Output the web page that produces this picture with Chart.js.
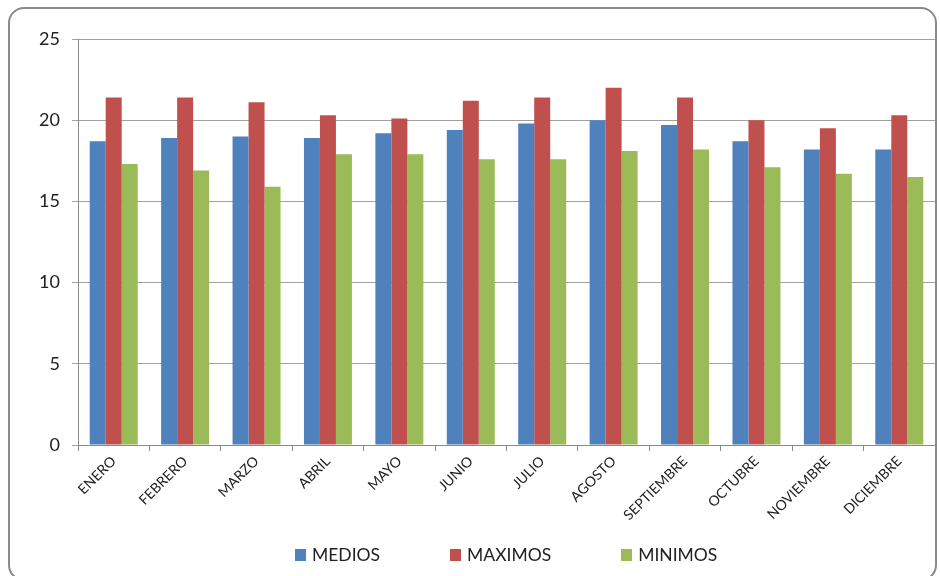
<!DOCTYPE html>
<html>
<head>
<meta charset="utf-8">
<script src="https://cdn.jsdelivr.net/npm/chart.js@4/dist/chart.umd.min.js"></script>
<style>
  body { margin: 0; background: #fff; overflow: hidden; }
  #wrap { position: relative; width: 940px; height: 576px; overflow: hidden; }
  #frame {
    position: absolute; left: 8px; top: 7px; width: 929px; height: 574px;
    border: 2px solid #8a8a8a; border-radius: 16px; box-sizing: border-box;
  }
  canvas { position: absolute; left: 0; top: 0; }
  #legend {
    position: absolute; left: 295px; top: 544px; display: flex; gap: 70px;
    font-family: Lato, "Open Sans", sans-serif; font-size: 17.5px; color: #222;
  }
  #legend span.item { display: flex; align-items: center; }
  #legend span.box { width: 11px; height: 12px; margin-right: 6px; display: inline-block; }
</style>
</head>
<body>
<div id="wrap">
  <div id="frame"></div>
  <canvas id="c" width="940" height="576"></canvas>
  <div id="legend"></div>
</div>
<script>
  const months = ['ENERO', 'FEBRERO', 'MARZO', 'ABRIL', 'MAYO', 'JUNIO', 'JULIO', 'AGOSTO', 'SEPTIEMBRE', 'OCTUBRE', 'NOVIEMBRE', 'DICIEMBRE'];
  const medios = [18.7, 18.9, 19.0, 18.9, 19.2, 19.4, 19.8, 20.0, 19.7, 18.7, 18.2, 18.2];
  const maximos = [21.4, 21.4, 21.1, 20.3, 20.1, 21.2, 21.4, 22.0, 21.4, 20.0, 19.5, 20.3];
  const minimos = [17.3, 16.9, 15.9, 17.9, 17.9, 17.6, 17.6, 18.1, 18.2, 17.1, 16.7, 16.5];
  const yTicks = [0, 5, 10, 15, 20, 25];

  const font = 'Lato, "Open Sans", sans-serif';

  // html legend built from the chart's own legend items
  const htmlLegend = {
    id: 'htmlLegend',
    afterUpdate(chart) {
      const el = document.getElementById('legend');
      el.innerHTML = '';
      chart.options.plugins.legend.labels.generateLabels(chart).forEach(item => {
        const span = document.createElement('span');
        span.className = 'item';
        const box = document.createElement('span');
        box.className = 'box';
        box.style.background = item.fillStyle;
        span.appendChild(box);
        span.appendChild(document.createTextNode(item.text));
        el.appendChild(span);
      });
    }
  };

  const ds = (label, data, color) => ({
    label, data,
    backgroundColor: color,
    borderWidth: 0,
    categoryPercentage: 0.672,
    barPercentage: 1,
  });

  new Chart(document.getElementById('c'), {
    type: 'bar',
    data: {
      labels: months,
      datasets: [
        ds('MEDIOS', medios, '#4F81BD'),
        ds('MAXIMOS', maximos, '#C0504D'),
        ds('MINIMOS', minimos, '#9BBB59'),
      ],
    },
    options: {
      responsive: false,
      animation: false,
      layout: { padding: { left: 0, right: 5, top: 39, bottom: 41 } },
      plugins: {
        legend: { display: false },
        tooltip: { enabled: false },
      },
      scales: {
        x: {
          grid: { drawOnChartArea: false, tickLength: 6, color: '#8a8a8a', offset: true },
          border: { color: '#8a8a8a', width: 1 },
          ticks: {
            minRotation: 45, maxRotation: 45, autoSkip: false, padding: 2,
            color: '#222', font: { family: font, size: 14 },
          },
          afterFit: s => { s.height = 90; },
        },
        y: {
          min: 0, max: 25,
          afterBuildTicks: s => { s.ticks = yTicks.map(v => ({ value: v })); },
          grid: { color: '#a0a0a0', tickLength: 6 },
          border: { color: '#8a8a8a', width: 1 },
          ticks: { padding: 12, color: '#222', font: { family: font, size: 18 } },
          afterFit: s => { s.width = 78; },
        },
      },
    },
    plugins: [htmlLegend],
  });
</script>
</body>
</html>
